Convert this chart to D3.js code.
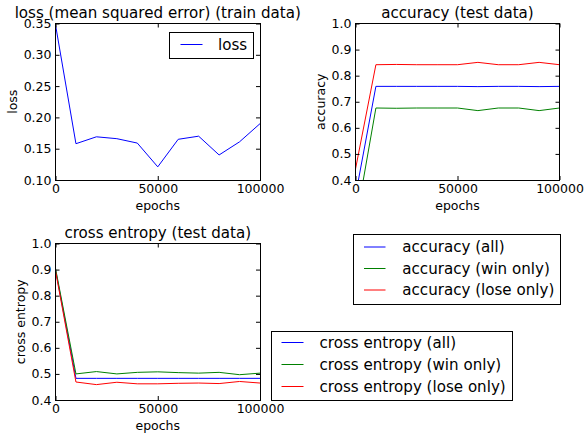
<!DOCTYPE html>
<html>
<head>
<meta charset="utf-8">
<script src="https://cdn.jsdelivr.net/npm/d3@7"></script>
<style>
  html, body { margin: 0; padding: 0; background: #fff; }
  svg { display: block; font-family: "DejaVu Sans", sans-serif; }
</style>
</head>
<body>
<svg id="fig" width="584" height="437"></svg>
<script>
// Training epochs at which the metrics were logged
const epochs = [0, 10000, 20000, 30000, 40000, 50000, 60000, 70000, 80000, 90000, 100000];

// Mean squared error on the training data
const lossValues = [0.348, 0.158, 0.169, 0.166, 0.159, 0.121, 0.165, 0.170, 0.140, 0.161, 0.190];

// Accuracy on the test data
const accAll  = [0.34, 0.759, 0.759, 0.759, 0.759, 0.759, 0.758, 0.759, 0.759, 0.758, 0.759];
const accWin  = [0.23, 0.676, 0.675, 0.676, 0.676, 0.676, 0.666, 0.676, 0.676, 0.666, 0.676];
const accLose = [0.442, 0.842, 0.843, 0.842, 0.842, 0.842, 0.851, 0.842, 0.842, 0.851, 0.842];

// Cross entropy on the test data
const ceAll  = [0.900, 0.483, 0.483, 0.483, 0.483, 0.483, 0.483, 0.483, 0.483, 0.483, 0.483];
const ceWin  = [0.905, 0.500, 0.509, 0.500, 0.506, 0.508, 0.505, 0.503, 0.506, 0.497, 0.503];
const ceLose = [0.895, 0.469, 0.459, 0.468, 0.462, 0.462, 0.464, 0.465, 0.463, 0.471, 0.465];

// Tick values
const xTicks = [0, 50000, 100000];
const lossTicks = [0.10, 0.15, 0.20, 0.25, 0.30, 0.35];
const unitTicks = [0.4, 0.5, 0.6, 0.7, 0.8, 0.9, 1.0];

const BLUE = "#0000ff", GREEN = "#008000", RED = "#ff0000";
const TICK_FONT = 12.5, TITLE_FONT = 15.1;

const svg = d3.select("#fig");

function panel(cfg) {
  const { left, top, width, height, yDomain, yTicks, yFormat, title, ylabel, series, id } = cfg;
  const g = svg.append("g").attr("transform", `translate(${left},${top})`);
  const x = d3.scaleLinear().domain([0, 100000]).range([0, width]);
  const y = d3.scaleLinear().domain(yDomain).range([height, 0]);

  g.append("clipPath").attr("id", id)
    .append("rect").attr("width", width).attr("height", height);

  const line = d3.line().x((d, i) => x(epochs[i])).y(d => y(d));
  const lines = g.append("g").attr("clip-path", `url(#${id})`);
  series.forEach(s => {
    lines.append("path").datum(s.values)
      .attr("d", line).attr("fill", "none")
      .attr("stroke", s.color).attr("stroke-width", 1);
  });

  const styleAxis = (sel) => {
    sel.select(".domain").remove();
    sel.selectAll(".tick line").attr("stroke", "#000");
    sel.selectAll("text").attr("font-size", TICK_FONT).attr("fill", "#000")
      .attr("font-family", "DejaVu Sans");
  };

  const yAxis = g.append("g")
    .call(d3.axisLeft(y).tickValues(yTicks).tickFormat(d3.format(yFormat)).tickSize(-4).tickPadding(4))
    .call(styleAxis);
  g.append("g").attr("transform", `translate(${width},0)`)
    .call(d3.axisRight(y).tickValues(yTicks).tickFormat("").tickSize(-4))
    .call(styleAxis);
  g.append("g").attr("transform", `translate(0,${height})`)
    .call(d3.axisBottom(x).tickValues(xTicks).tickFormat(d3.format("d")).tickSize(-4).tickPadding(4.5))
    .call(styleAxis);
  g.append("g")
    .call(d3.axisTop(x).tickValues(xTicks).tickFormat("").tickSize(-4))
    .call(styleAxis);

  g.append("rect").attr("width", width).attr("height", height)
    .attr("fill", "none").attr("stroke", "#000").attr("stroke-width", 1)
    .attr("shape-rendering", "crispEdges");

  g.append("text").attr("x", width / 2).attr("y", -6)
    .attr("text-anchor", "middle").attr("font-size", TITLE_FONT).text(title);

  g.append("text").attr("x", width / 2).attr("y", height + 30)
    .attr("text-anchor", "middle").attr("font-size", TICK_FONT).text("epochs");

  const tb = yAxis.node().getBBox();
  g.append("text")
    .attr("transform", `translate(${tb.x - 7},${height / 2}) rotate(-90)`)
    .attr("text-anchor", "middle").attr("font-size", TICK_FONT).text(ylabel);
}

function legend(cfg) {
  const { x0, y0, w, h, rows, rowGap, firstRow, lineX0, lineX1, textX } = cfg;
  const g = svg.append("g").attr("transform", `translate(${x0},${y0})`);
  g.append("rect").attr("width", w).attr("height", h)
    .attr("fill", "#fff").attr("stroke", "#000").attr("stroke-width", 1)
    .attr("shape-rendering", "crispEdges");
  rows.forEach((r, i) => {
    const yy = firstRow + i * rowGap;
    g.append("line").attr("x1", lineX0).attr("x2", lineX1).attr("y1", yy).attr("y2", yy)
      .attr("stroke", r.color).attr("stroke-width", 1);
    g.append("text").attr("x", textX).attr("y", yy).attr("dy", "0.35em")
      .attr("font-size", TITLE_FONT).text(r.label);
  });
}

panel({
  id: "clip-loss", left: 55.5, top: 23.5, width: 204.5, height: 156.5,
  yDomain: [0.10, 0.35], yTicks: lossTicks, yFormat: ".2f",
  title: "loss (mean squared error) (train data)", ylabel: "loss",
  series: [{ values: lossValues, color: BLUE }]
});

panel({
  id: "clip-acc", left: 355.5, top: 23.5, width: 204, height: 156.5,
  yDomain: [0.4, 1.0], yTicks: unitTicks, yFormat: ".1f",
  title: "accuracy (test data)", ylabel: "accuracy",
  series: [
    { values: accAll, color: BLUE },
    { values: accWin, color: GREEN },
    { values: accLose, color: RED }
  ]
});

panel({
  id: "clip-ce", left: 55.5, top: 243.5, width: 204.5, height: 156.5,
  yDomain: [0.4, 1.0], yTicks: unitTicks, yFormat: ".1f",
  title: "cross entropy (test data)", ylabel: "cross entropy",
  series: [
    { values: ceAll, color: BLUE },
    { values: ceWin, color: GREEN },
    { values: ceLose, color: RED }
  ]
});

legend({
  x0: 169.5, y0: 32.5, w: 84, h: 26, rowGap: 0, firstRow: 12,
  lineX0: 11, lineX1: 33, textX: 48.5,
  rows: [{ label: "loss", color: BLUE }]
});

legend({
  x0: 353.5, y0: 234.5, w: 207, h: 70, rowGap: 21.5, firstRow: 12.5,
  lineX0: 10.5, lineX1: 32, textX: 48.8,
  rows: [
    { label: "accuracy (all)", color: BLUE },
    { label: "accuracy (win only)", color: GREEN },
    { label: "accuracy (lose only)", color: RED }
  ]
});

legend({
  x0: 271.5, y0: 331.5, w: 241, h: 69, rowGap: 22, firstRow: 11,
  lineX0: 10, lineX1: 32, textX: 48,
  rows: [
    { label: "cross entropy (all)", color: BLUE },
    { label: "cross entropy (win only)", color: GREEN },
    { label: "cross entropy (lose only)", color: RED }
  ]
});
</script>
</body>
</html>
